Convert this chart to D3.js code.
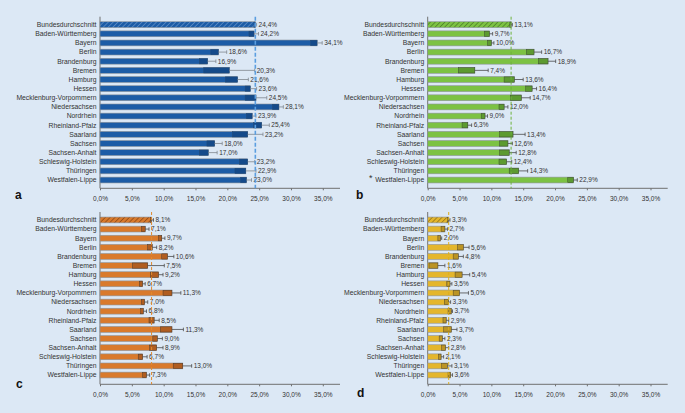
<!DOCTYPE html>
<html>
<head>
<meta charset="utf-8">
<script src="https://cdn.jsdelivr.net/npm/d3@7"></script>
<style>
  body { margin: 0; background: #dce8f5; }
  svg { display: block; font-family: "Liberation Sans", Arial, sans-serif; }
</style>
</head>
<body>
<div id="chart"></div>
<script>
// Chart size
const width = 685;
const height = 413;

// Categories (same for all four panels)
const categories = ["Bundesdurchschnitt", "Baden-Württemberg", "Bayern", "Berlin", "Brandenburg",
  "Bremen", "Hamburg", "Hessen", "Mecklenburg-Vorpommern", "Niedersachsen", "Nordrhein",
  "Rheinland-Pfalz", "Saarland", "Sachsen", "Sachsen-Anhalt", "Schleswig-Holstein",
  "Thüringen", "Westfalen-Lippe"];

// Panel a
const valuesA = [24.4, 24.2, 34.1, 18.6, 16.9, 20.3, 21.6, 23.6, 24.5, 28.1, 23.9, 25.4, 23.2, 18.0, 17.0, 23.2, 22.9, 23.0];
const lowA    = [24.2, 23.4, 33.1, 17.4, 15.6, 16.3, 19.7, 22.8, 22.8, 27.1, 23.0, 24.1, 20.8, 16.8, 15.6, 21.9, 21.2, 22.1];
const highA   = [24.6, 24.9, 34.9, 19.9, 18.2, 24.3, 23.3, 24.6, 26.2, 28.8, 24.5, 26.6, 25.6, 19.2, 18.4, 24.3, 24.5, 23.8];

// Panel b
const valuesB = [13.1, 9.7, 10.0, 16.7, 18.9, 7.4, 13.6, 16.4, 14.7, 12.0, 9.0, 6.3, 13.4, 12.6, 12.8, 12.4, 14.3, 22.9];
const lowB    = [12.9, 8.9, 9.4, 15.5, 17.4, 4.8, 12.0, 15.4, 13.0, 11.2, 8.4, 5.4, 11.3, 11.3, 11.3, 11.2, 12.8, 22.0];
const highB   = [13.3, 10.2, 10.4, 17.9, 20.1, 9.5, 15.0, 17.1, 16.1, 12.6, 9.4, 6.9, 15.3, 13.3, 13.9, 13.2, 15.7, 23.5];

// Panel c
const valuesC = [8.1, 7.1, 9.7, 8.2, 10.6, 7.5, 9.2, 6.7, 11.3, 7.0, 6.8, 8.5, 11.3, 9.0, 8.9, 6.7, 13.0, 7.3];
const lowC    = [7.9, 6.5, 9.2, 7.5, 9.7, 5.1, 7.9, 6.2, 9.9, 6.5, 6.4, 7.7, 9.5, 8.3, 7.8, 6.0, 11.5, 6.7];
const highC   = [8.4, 7.7, 10.2, 8.9, 11.6, 10.1, 9.9, 7.1, 12.7, 7.5, 7.3, 9.3, 13.1, 9.8, 9.9, 7.4, 14.4, 7.8];

// Panel d
const valuesD = [3.3, 2.7, 2.0, 5.6, 4.8, 1.6, 5.4, 3.5, 5.0, 3.3, 3.7, 2.9, 3.7, 2.3, 2.8, 2.1, 3.1, 3.6];
const lowD    = [3.1, 2.1, 1.6, 4.7, 4.0, 0.2, 4.3, 3.0, 4.0, 2.6, 3.2, 2.4, 2.5, 1.8, 2.2, 1.7, 2.2, 3.2];
const highD   = [3.5, 3.1, 2.2, 6.5, 5.6, 2.7, 6.6, 3.8, 6.4, 3.6, 3.9, 3.3, 4.6, 2.7, 3.3, 2.5, 3.8, 3.9];

// x tick values
const xTicks = [0, 5, 10, 15, 20, 25, 30, 35];

const fmt = v => d3.format(".1f")(v).replace(".", ",") + "%";

const svg = d3.select("#chart")
  .append("svg")
  .attr("width", width)
  .attr("height", height);

svg.append("rect")
  .attr("width", width)
  .attr("height", height)
  .attr("fill", "#dce8f5");

const defs = svg.append("defs");

// layout + colours for each panel
const panels = [
  {key: "a", values: valuesA, low: lowA, high: highA, left: 100, top: 20.1, bottom: 184.6, axisTop: 16.7, axisY: 188.3,
   fill: "#1c5ca6", dark: "#144a8a", boxStroke: "#244a75", hatch: "#6f9bd0", line: "#5b9ee0", dash: "4,2", lineW: 1.6,
   whisker: "#80868e", letterX: 15, letterY: 198.5},
  {key: "b", values: valuesB, low: lowB, high: highB, left: 427.7, top: 20.1, bottom: 184.6, axisTop: 16.7, axisY: 188.3,
   fill: "#7cc243", dark: "#5c9a30", boxStroke: "#3d4a33", hatch: "#3f6e22", line: "#6db33c", dash: "3,2", lineW: 1,
   whisker: "#4a4a4a", letterX: 356, letterY: 198.5},
  {key: "c", values: valuesC, low: lowC, high: highC, left: 100, top: 215.4, bottom: 379.6, axisTop: 212, axisY: 384.3,
   fill: "#d97a2c", dark: "#b05d20", boxStroke: "#4a3a2e", hatch: "#7a3d10", line: "#e08a2e", dash: "3,2", lineW: 1,
   whisker: "#4a4a4a", letterX: 16, letterY: 388},
  {key: "d", values: valuesD, low: lowD, high: highD, left: 427.7, top: 215.4, bottom: 379.6, axisTop: 212, axisY: 384.3,
   fill: "#e4b62c", dark: "#bb9424", boxStroke: "#4d452e", hatch: "#7d6112", line: "#dcae1e", dash: "3,2", lineW: 1,
   whisker: "#4a4a4a", letterX: 357, letterY: 396.5}
];

panels.forEach(p => {
  // hatch pattern for the Bundesdurchschnitt bar
  const pat = defs.append("pattern")
    .attr("id", "hatch-" + p.key)
    .attr("patternUnits", "userSpaceOnUse")
    .attr("width", 3.4)
    .attr("height", 3.4)
    .attr("patternTransform", "rotate(45)");
  pat.append("rect").attr("width", 3.4).attr("height", 3.4).attr("fill", p.fill);
  pat.append("line").attr("x1", 0).attr("x2", 0).attr("y1", 0).attr("y2", 3.4)
    .attr("stroke", p.hatch).attr("stroke-width", 1.2);

  const x = d3.scaleLinear().domain([0, 37.7]).range([p.left, p.left + 240]);
  const y = d3.scaleBand().domain(categories).range([p.top, p.bottom]).paddingInner(0.36).paddingOuter(0.18);
  const bh = y.bandwidth();

  const g = svg.append("g");

  // x axis
  const xAxis = g.append("g")
    .attr("transform", `translate(0,${p.axisY})`)
    .call(d3.axisBottom(x).tickValues(xTicks).tickFormat(fmt).tickSize(2).tickPadding(6.2));
  xAxis.select(".domain").attr("stroke", "#707070").attr("d", `M${p.left},0H${p.left + 240}`);
  xAxis.selectAll(".tick line").attr("stroke", "#707070");
  xAxis.selectAll("text").attr("font-size", "6.5px").attr("fill", "#333").attr("font-family", null);

  // y axis line
  g.append("line")
    .attr("x1", p.left).attr("x2", p.left)
    .attr("y1", p.axisTop).attr("y2", p.axisY)
    .attr("stroke", "#707070");

  // category labels
  g.selectAll(".cat")
    .data(categories)
    .enter()
    .append("text")
    .attr("x", p.left - 3.5)
    .attr("y", d => y(d) + bh / 2)
    .attr("dy", "0.35em")
    .attr("text-anchor", "end")
    .attr("font-size", "6.8px")
    .attr("fill", "#333")
    .text(d => d);

  const rows = categories.map((c, i) => ({cat: c, v: p.values[i], lo: p.low[i], hi: p.high[i], i: i}));

  // bars
  g.selectAll(".bar")
    .data(rows)
    .enter()
    .append("rect")
    .attr("x", x(0))
    .attr("y", d => y(d.cat))
    .attr("width", d => x(d.v) - x(0))
    .attr("height", bh)
    .attr("fill", d => d.i === 0 ? `url(#hatch-${p.key})` : p.fill)
    .attr("stroke", "#8d949c")
    .attr("stroke-width", 0.6);

  // darker box from lower CI to value
  g.selectAll(".ci")
    .data(rows)
    .enter()
    .append("rect")
    .attr("x", d => x(d.lo))
    .attr("y", d => y(d.cat) + 0.3)
    .attr("width", d => x(d.v) - x(d.lo))
    .attr("height", bh - 0.6)
    .attr("fill", d => d.i === 0 ? "none" : p.dark)
    .attr("stroke", p.boxStroke)
    .attr("stroke-width", 0.5);

  // whisker to upper CI
  g.selectAll(".whisker")
    .data(rows)
    .enter()
    .append("path")
    .attr("d", d => {
      const cy = y(d.cat) + bh / 2;
      return `M${x(d.v)},${cy}H${x(d.hi)}M${x(d.hi)},${cy - 1.8}V${cy + 1.8}`;
    })
    .attr("fill", "none")
    .attr("stroke", p.whisker)
    .attr("stroke-width", 0.8);

  // value labels
  g.selectAll(".val")
    .data(rows)
    .enter()
    .append("text")
    .attr("x", d => x(d.hi) + 2)
    .attr("y", d => y(d.cat) + bh / 2)
    .attr("dy", "0.35em")
    .attr("font-size", "6.5px")
    .attr("fill", "#333")
    .text(d => fmt(d.v));

  // reference line at national average
  g.append("line")
    .attr("x1", x(p.values[0])).attr("x2", x(p.values[0]))
    .attr("y1", p.axisTop).attr("y2", p.axisY)
    .attr("stroke", p.line)
    .attr("stroke-width", p.lineW)
    .attr("stroke-dasharray", p.dash);

  // panel letter
  g.append("text")
    .attr("x", p.letterX)
    .attr("y", p.letterY)
    .attr("font-size", "12px")
    .attr("font-weight", "bold")
    .attr("fill", "#111")
    .text(p.key);
});

// footnote marker in panel b
svg.append("text")
  .attr("x", 369)
  .attr("y", 181)
  .attr("font-size", "9px")
  .attr("fill", "#333")
  .text("*");
</script>
</body>
</html>
